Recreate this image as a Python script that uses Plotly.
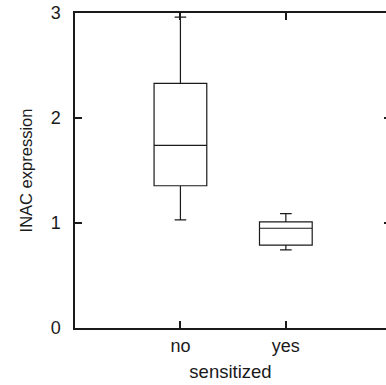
import plotly.graph_objects as go

categories = ["no", "yes"]
upper_whisker = [2.96, 1.09]
q3_values = [2.33, 1.01]
medians = [1.74, 0.95]
q1_values = [1.355, 0.79]
lower_whisker = [1.03, 0.745]
y_ticks = [0, 1, 2, 3]

font_family = "Liberation Sans, Arial, sans-serif"

fig = go.Figure()
fig.add_trace(go.Box(
    x=categories,
    q1=q1_values,
    median=medians,
    q3=q3_values,
    lowerfence=lower_whisker,
    upperfence=upper_whisker,
    width=0.5,
    whiskerwidth=0.22,
    line=dict(color="#1a1a1a", width=1.2),
    fillcolor="rgba(255,255,255,0)",
    boxpoints=False,
    showlegend=False,
    hoverinfo="skip",
))
# invisible trace for right-side mirrored ticks
fig.add_trace(go.Scatter(x=categories, y=[None, None], yaxis="y2",
                         showlegend=False, hoverinfo="skip"))

fig.update_layout(
    width=386, height=385,
    margin=dict(l=75, r=0, t=13, b=57),
    paper_bgcolor="white", plot_bgcolor="white",
    font=dict(family=font_family, color="#1a1a1a", size=18),
    xaxis=dict(
        type="category",
        range=[-1, 1.95],
        showline=True, linecolor="#1a1a1a", linewidth=2,
        mirror="ticks",
        ticks="inside", ticklen=7, tickwidth=1.5, tickcolor="#1a1a1a",
        showgrid=False, zeroline=False,
        tickfont=dict(size=18),
        ticklabelstandoff=0,
        title=dict(text="sensitized", font=dict(size=18.5), standoff=10),
    ),
    yaxis=dict(
        range=[0, 3],
        tickvals=y_ticks,
        showline=True, linecolor="#1a1a1a", linewidth=1.5,
        ticks="inside", ticklen=7, tickwidth=1.5, tickcolor="#1a1a1a",
        showgrid=False, zeroline=False,
        tickfont=dict(size=18),
        ticklabelstandoff=9,
        title=dict(text="INAC expression", font=dict(size=16.5), standoff=14),
    ),
    yaxis2=dict(
        overlaying="y", side="right",
        range=[0, 3], tickvals=y_ticks,
        showline=False, showticklabels=False,
        ticks="inside", ticklen=2, tickwidth=1.5, tickcolor="#1a1a1a",
        showgrid=False, zeroline=False,
    ),
)

fig.write_html(
    "out.html",
    config={"displayModeBar": False},
    post_script="document.body.style.margin='0';document.body.style.overflow='hidden';",
)
